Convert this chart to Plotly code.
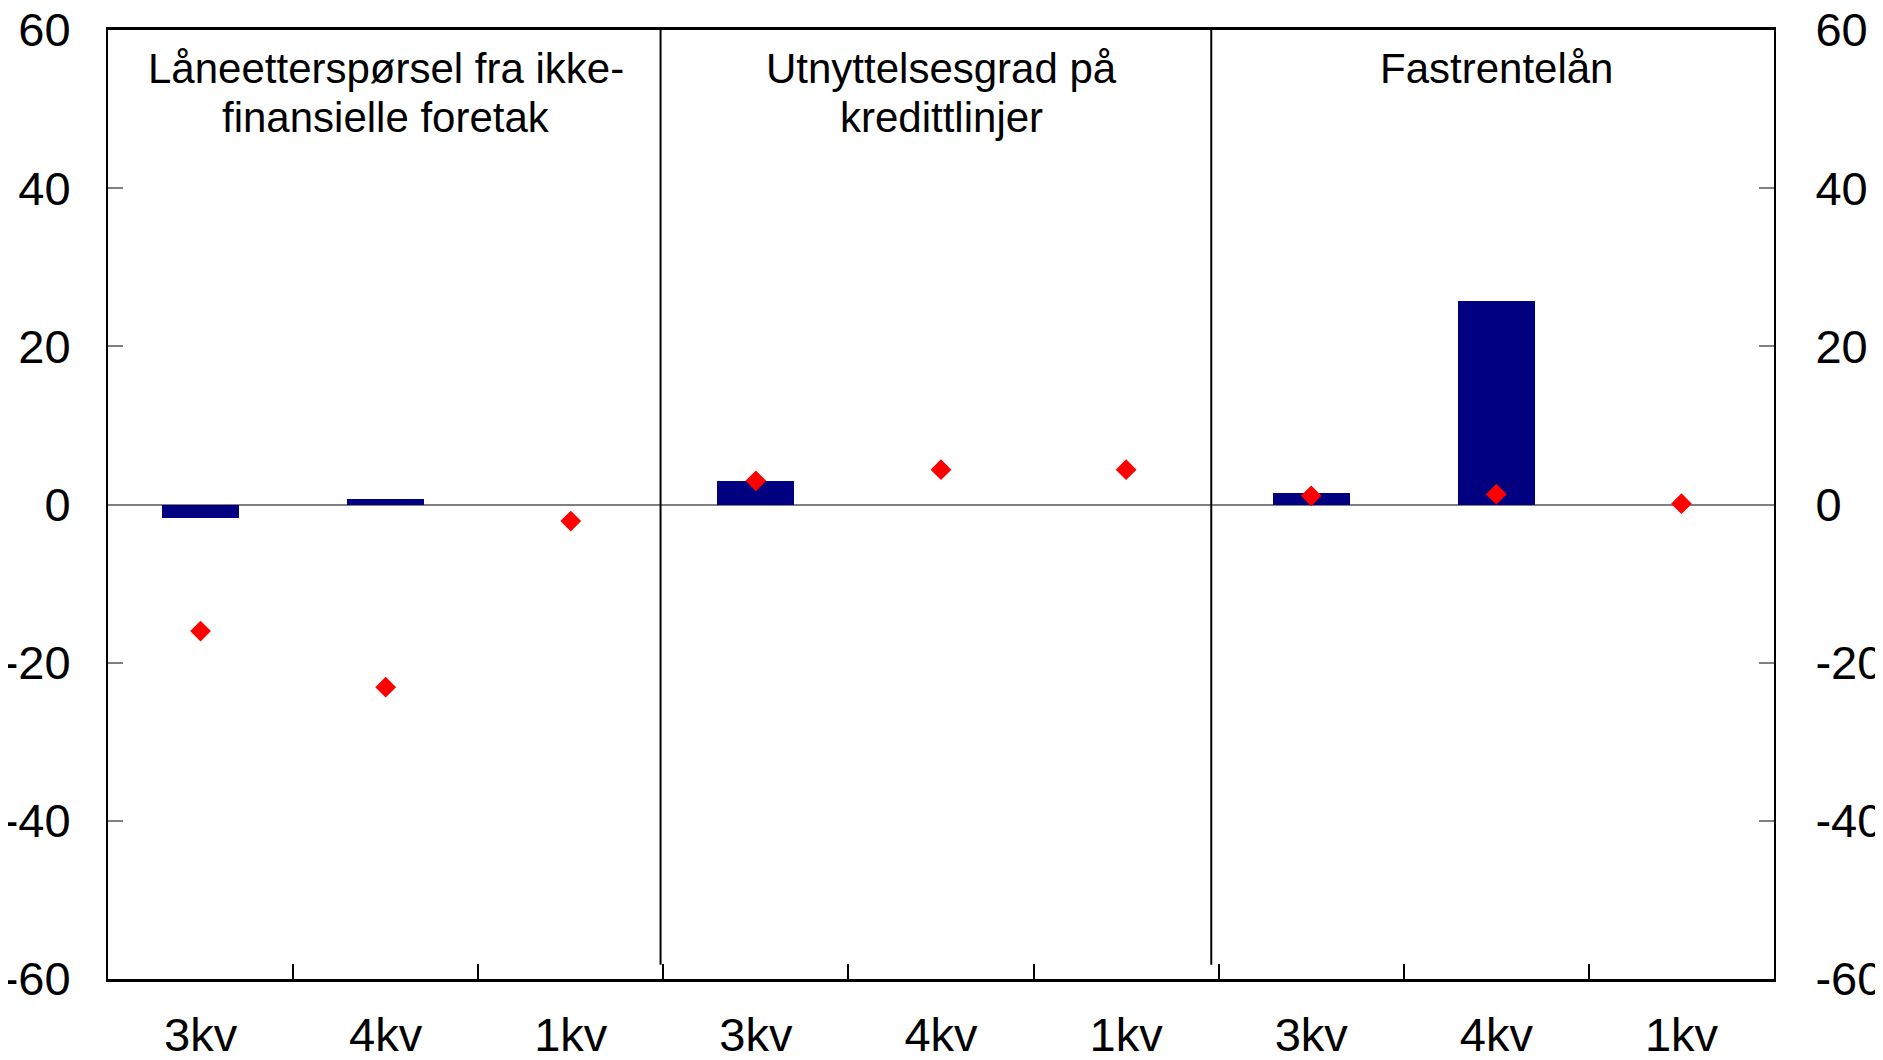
import plotly.graph_objects as go

# ---- data ----
categories = ["3kv", "4kv", "1kv", "3kv", "4kv", "1kv", "3kv", "4kv", "1kv"]
bar_values = [-1.7, 0.7, None, 3.0, None, None, 1.5, 25.7, None]
diamond_values = [-16.0, -23.1, -2.1, 3.0, 4.4, 4.4, 1.1, 1.3, 0.1]
panel_titles = [["Låneetterspørsel fra ikke-", "finansielle foretak"],
                ["Utnyttelsesgrad på", "kredittlinjer"],
                ["Fastrentelån"]]
panel_title_pos = [1, 4, 7]
separators = [2.485, 5.46]
y_ticks = [-60, -40, -20, 0, 20, 40, 60]
y_ticktext = ["-60", "-40", "-20", "0", "20", "40", "60"]

x = list(range(len(categories)))
FONT = "Liberation Sans, Arial, sans-serif"

fig = go.Figure()
fig.add_trace(go.Bar(x=x, y=bar_values, marker=dict(color="#000080", line=dict(width=0)),
                     width=0.415, showlegend=False, hoverinfo="skip"))
fig.add_trace(go.Scatter(x=x, y=diamond_values, mode="markers", yaxis="y2",
                         marker=dict(symbol="diamond", color="#FF0000", size=16,
                                     line=dict(width=0)),
                         showlegend=False))

for xs in separators:
    fig.add_shape(type="line", xref="x", yref="y", x0=xs, x1=xs, y0=-58.2, y1=60,
                  line=dict(color="black", width=2))

line_y = [0.9594, 0.9076]
for lines, px in zip(panel_titles, panel_title_pos):
    for i, t in enumerate(lines):
        fig.add_annotation(x=px, xref="x", y=line_y[i], yref="paper", yanchor="middle",
                           text=t, showarrow=False,
                           font=dict(family=FONT, size=42, color="black"))

yax_common = dict(range=[-60, 60], tickvals=y_ticks, ticktext=y_ticktext,
                  ticks="inside", ticklen=15,
                  tickwidth=1.5, tickcolor="#808080", showgrid=False,
                  showline=True, linecolor="black", linewidth=2,
                  tickfont=dict(family=FONT, size=47, color="black"),
                  automargin=False, ticklabeloverflow="allow")

fig.update_layout(
    width=1883, height=1060,
    margin=dict(l=100, r=117, t=22, b=89),
    paper_bgcolor="white", plot_bgcolor="white",
    bargap=0,
    xaxis=dict(range=[-0.5, 8.5], tickvals=x, ticktext=categories, ticks="",
               showgrid=False, showline=True, linecolor="black", linewidth=2.5,
               mirror=True, zeroline=False, automargin=False,
               tickfont=dict(family=FONT, size=47, color="black"),
               ticklabelstandoff=13, ticklabeloverflow="allow",
               minor=dict(tickvals=[i + 0.5 for i in range(8)], ticks="inside",
                          ticklen=15, tickwidth=1.5, tickcolor="black")),
    yaxis=dict(**yax_common, ticklabelstandoff=26,
               zeroline=True, zerolinecolor="#808080", zerolinewidth=2),
    yaxis2=dict(**yax_common, ticklabelstandoff=30,
                overlaying="y", side="right", zeroline=False),
)

fig.write_html("out.html")
